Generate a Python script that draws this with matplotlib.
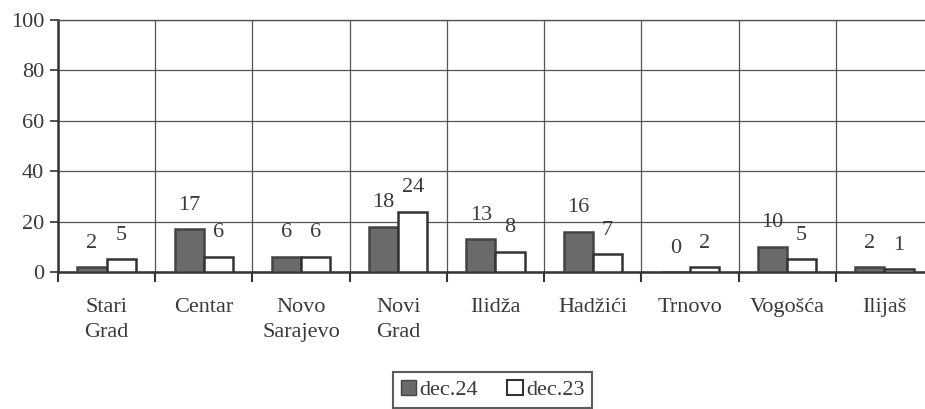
import numpy as np
import matplotlib.pyplot as plt
from matplotlib.patches import Patch

plt.rcParams['font.family'] = ['Liberation Serif', 'DejaVu Serif']

categories = ['Stari\nGrad', 'Centar', 'Novo\nSarajevo', 'Novi\nGrad', 'Ilidža',
              'Hadžići', 'Trnovo', 'Vogošća', 'Ilijaš']
dec24 = [2, 17, 6, 18, 13, 16, 0, 10, 2]
dec23 = [5, 6, 6, 24, 8, 7, 2, 5, 1]
series_names = ['dec.24', 'dec.23']

txt = '#3a3a3a'
edge = '#333333'
dark = '#6a6a6a'

fig = plt.figure(figsize=(9.25, 4.09), dpi=100)
# axes runs a little past the right edge, like the scanned original
ax = fig.add_axes([58 / 925, 1 - 272 / 409, (933 - 58) / 925, (272 - 20) / 409])

x = np.arange(len(categories))
w = 0.3
ax.bar(x - w / 2, dec24, w, color=dark, edgecolor='#444444', linewidth=1.8, zorder=3)
ax.bar(x + w / 2, dec23, w, color='white', edgecolor=edge, linewidth=1.8, zorder=3)

for i in range(len(categories)):
    ax.text(x[i] - w / 2, dec24[i] + 9.5, str(dec24[i]), ha='center', va='center',
            fontsize=16, color=txt)
    ax.text(x[i] + w / 2, dec23[i] + 9.5, str(dec23[i]), ha='center', va='center',
            fontsize=16, color=txt)

ax.set_xlim(-0.5, len(categories) - 0.5)
ax.set_ylim(0, 100)
ax.set_yticks(range(0, 101, 20))
ax.set_xticks(x)
ax.set_xticklabels(categories, fontsize=16, color=txt, linespacing=1.4)
ax.set_xticks(np.arange(-0.5, len(categories), 1), minor=True)
ax.tick_params(axis='x', which='major', length=0, pad=19)
ax.tick_params(axis='x', which='minor', length=7, width=1.5, color=edge)
ax.tick_params(axis='y', length=6, width=1.2, color=edge, labelsize=16, labelcolor=txt, pad=4)

ax.grid(True, axis='y', color='#555555', linewidth=0.9, zorder=0)
ax.grid(True, axis='x', which='minor', color='#555555', linewidth=0.9, zorder=0)
ax.spines['right'].set_visible(False)
ax.spines['top'].set_color('#555555')
ax.spines['top'].set_linewidth(1.0)
for s in ['left', 'bottom']:
    ax.spines[s].set_linewidth(1.8)
    ax.spines[s].set_color(edge)

handles = [Patch(facecolor=dark, edgecolor='#444444'),
           Patch(facecolor='white', edgecolor=edge, linewidth=1.5)]
leg = fig.legend(handles, series_names, loc='upper left',
                 bbox_to_anchor=(393 / 925, 1 - 372 / 409), ncol=2, fontsize=16,
                 frameon=True, fancybox=False, handlelength=0.7, handleheight=0.7,
                 handletextpad=0.15, columnspacing=1.3, borderpad=0.35, borderaxespad=0)
leg.get_frame().set_edgecolor(edge)
leg.get_frame().set_linewidth(1.5)
for t in leg.get_texts():
    t.set_color(txt)

fig.savefig('out.png', dpi=100)
